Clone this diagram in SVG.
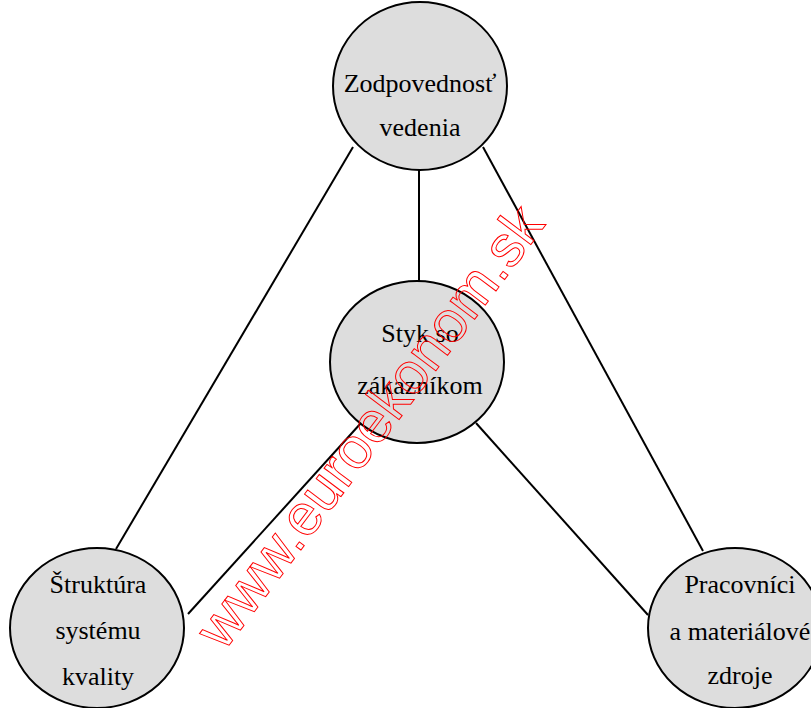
<svg xmlns="http://www.w3.org/2000/svg" width="811" height="708" viewBox="0 0 811 708">
  <style>
    .node ellipse { fill: #dddddd; stroke: #000000; stroke-width: 2; }
    .label { font-family: 'Liberation Serif', 'Times New Roman', Times, serif; font-size: 26px; fill: #000000; text-anchor: middle; }
    #connectors line { stroke: #000000; stroke-width: 2; }
    .mark { font-family: 'Liberation Sans', Arial, sans-serif; font-size: 58px; fill: none; stroke: #ff0000; stroke-width: 1; }
  </style>
  <rect width="811" height="708" fill="#ffffff"/>

  <g id="connectors">
    <line x1="353" y1="147" x2="116" y2="549"/>
    <line x1="483" y1="147" x2="703" y2="551"/>
    <line x1="419" y1="170" x2="419" y2="281"/>
    <line x1="361" y1="423" x2="188" y2="614"/>
    <line x1="476" y1="423" x2="648" y2="615"/>
  </g>

  <g id="leadership" class="node">
    <ellipse cx="420" cy="86" rx="87" ry="84"/>
    <text class="label" font-family="Liberation Serif, serif" x="420" y="92">Zodpovednosť</text>
    <text class="label" font-family="Liberation Serif, serif" x="420" y="136">vedenia</text>
  </g>

  <g id="customer" class="node">
    <ellipse cx="417" cy="362" rx="87" ry="81"/>
    <text class="label" font-family="Liberation Serif, serif" x="420" y="342">Styk so</text>
    <text class="label" font-family="Liberation Serif, serif" x="420" y="394">zákazníkom</text>
  </g>

  <g id="structure" class="node">
    <ellipse cx="97" cy="628" rx="87" ry="80"/>
    <text class="label" font-family="Liberation Serif, serif" x="98" y="593">Štruktúra</text>
    <text class="label" font-family="Liberation Serif, serif" x="98" y="639">systému</text>
    <text class="label" font-family="Liberation Serif, serif" x="98" y="685">kvality</text>
  </g>

  <g id="resources" class="node">
    <ellipse cx="735" cy="628" rx="87" ry="80"/>
    <text class="label" font-family="Liberation Serif, serif" x="740" y="593">Pracovníci</text>
    <text class="label" font-family="Liberation Serif, serif" x="740" y="640">a materiálové</text>
    <text class="label" font-family="Liberation Serif, serif" x="740" y="684">zdroje</text>
  </g>

  <text class="mark" transform="translate(224,652) rotate(-53)">www.euroekonom.sk</text>
</svg>
